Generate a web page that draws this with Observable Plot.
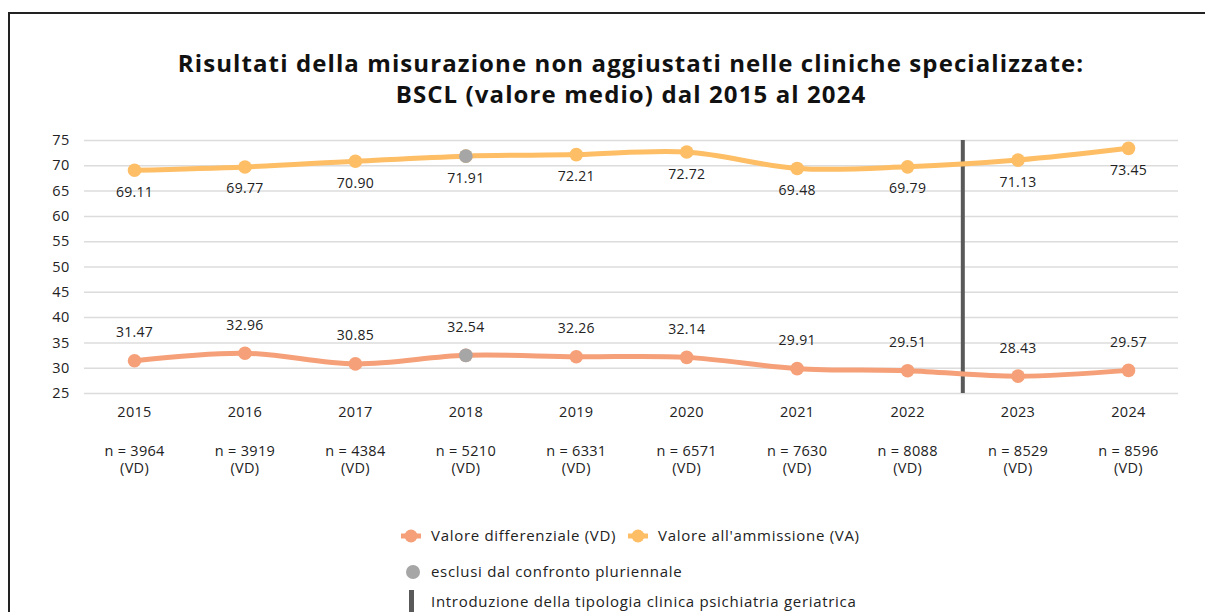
<!DOCTYPE html>
<html>
<head>
<meta charset="utf-8">
<script src="https://cdn.jsdelivr.net/npm/d3@7"></script>
<script src="https://cdn.jsdelivr.net/npm/@observablehq/plot@0.6"></script>
<style>
  html, body { margin: 0; padding: 0; background: #fff; overflow: hidden; }
  body { width: 1205px; height: 612px; position: relative; font-family: "Open Sans", sans-serif; color: #222; }
  #frame { position: absolute; left: 8px; top: 12px; width: 1400px; height: 800px; border-top: 2px solid #222; border-left: 2px solid #222; }
  #title { position: absolute; left: 0; width: 1262px; top: 47px; text-align: center; font-weight: 700; font-size: 24px; line-height: 31px; color: #111; letter-spacing: 1.1px; }
  #chart { position: absolute; left: 0; top: 110px; }
  .leg { position: absolute; font-size: 15px; color: #222; white-space: nowrap; line-height: 18px; letter-spacing: 0.7px; }
  .leg svg { position: absolute; }
</style>
</head>
<body>
<div id="frame"></div>
<div id="title">Risultati della misurazione non aggiustati nelle cliniche specializzate:<br>BSCL (valore medio) dal 2015 al 2024</div>
<div id="chart"></div>
<div id="legend"></div>
<script>
const years = [2015, 2016, 2017, 2018, 2019, 2020, 2021, 2022, 2023, 2024];
const valoreAmmissione = [69.11, 69.77, 70.90, 71.91, 72.21, 72.72, 69.48, 69.79, 71.13, 73.45];
const valoreDifferenziale = [31.47, 32.96, 30.85, 32.54, 32.26, 32.14, 29.91, 29.51, 28.43, 29.57];
const nCounts = [3964, 3919, 4384, 5210, 6331, 6571, 7630, 8088, 8529, 8596];
const excludedYears = [2018];
const introductionYear = 2022.5;
const yTicks = [25, 30, 35, 40, 45, 50, 55, 60, 65, 70, 75];

const colVA = "#FDBE66";
const colVD = "#F5A078";
const colEx = "#A6A6A6";

const va = years.map((y, i) => ({year: y, value: valoreAmmissione[i]}));
const vd = years.map((y, i) => ({year: y, value: valoreDifferenziale[i]}));
const ex = [...va, ...vd].filter(d => excludedYears.includes(d.year));
const nLabels = years.map((y, i) => ({year: y, label: `n = ${nCounts[i]}\n(VD)`}));

const chart = Plot.plot({
  width: 1205,
  height: 370,
  marginTop: 30,
  marginBottom: 87,
  marginLeft: 84,
  marginRight: 27,
  style: {fontFamily: "Open Sans, sans-serif", fontSize: "14px", color: "#222", background: "transparent", letterSpacing: "0.3px"},
  x: {type: "linear", domain: [2014.547, 2024.453], axis: null},
  y: {domain: [25, 75], axis: null},
  marks: [
    Plot.gridY(yTicks, {stroke: "#dcdcdc", strokeOpacity: 1, strokeWidth: 1.5}),
    Plot.axisY(yTicks, {tickSize: 0, tickPadding: 15, fontSize: 14.5, fill: "#222", tickFormat: d => String(d), label: null}),
    Plot.ruleX([introductionYear], {y1: 25, y2: 75, stroke: "#595959", strokeWidth: 4}),
    Plot.line(va, {x: "year", y: "value", stroke: colVA, strokeWidth: 5, curve: "catmull-rom"}),
    Plot.line(vd, {x: "year", y: "value", stroke: colVD, strokeWidth: 5, curve: "catmull-rom"}),
    Plot.dot(va, {x: "year", y: "value", fill: colVA, r: 6.8}),
    Plot.dot(vd, {x: "year", y: "value", fill: colVD, r: 6.8}),
    Plot.dot(ex, {x: "year", y: "value", fill: colEx, r: 6.8}),
    Plot.text(va, {x: "year", y: "value", text: d => d.value.toFixed(2), dy: 22, fill: "#222", fontSize: 14}),
    Plot.text(vd, {x: "year", y: "value", text: d => d.value.toFixed(2), dy: -28, fill: "#222", fontSize: 14}),
    Plot.text(years, {x: d => d, frameAnchor: "bottom", lineAnchor: "middle", dy: 19, text: d => String(d), fill: "#222", fontSize: 14.5}),
    Plot.text(nLabels, {x: "year", frameAnchor: "bottom", lineAnchor: "middle", dy: 65.5, text: "label", lineHeight: 1.2, fill: "#222", fontSize: 14.5})
  ]
});
document.getElementById("chart").appendChild(chart);

// Legend
const legendItems = [
  {label: "Valore differenziale (VD)", color: colVD, kind: "linedot", x: 401, y: 536},
  {label: "Valore all'ammissione (VA)", color: colVA, kind: "linedot", x: 628, y: 536},
  {label: "esclusi dal confronto pluriennale", color: colEx, kind: "dot", x: 401, y: 572},
  {label: "Introduzione della tipologia clinica psichiatria geriatrica", color: "#595959", kind: "rule", x: 401, y: 602}
];
const legend = document.getElementById("legend");
legendItems.forEach(it => {
  const div = document.createElement("div");
  div.className = "leg";
  div.style.left = (it.x + 30) + "px";
  div.style.top = (it.y - 10) + "px";
  div.textContent = it.label;
  legend.appendChild(div);
  const s = d3.create("svg").attr("width", 22).attr("height", 24)
    .style("left", (it.x - 1) + "px").style("top", (it.y - 12) + "px")
    .style("position", "absolute");
  if (it.kind === "linedot") {
    s.append("line").attr("x1", 1).attr("x2", 21).attr("y1", 12).attr("y2", 12).attr("stroke", it.color).attr("stroke-width", 5);
    s.append("circle").attr("cx", 11).attr("cy", 12).attr("r", 6.5).attr("fill", it.color);
  } else if (it.kind === "dot") {
    s.append("circle").attr("cx", 13).attr("cy", 12).attr("r", 7).attr("fill", it.color);
  } else {
    s.append("rect").attr("x", 9).attr("y", -6).attr("width", 5).attr("height", 30).attr("fill", it.color);
  }
  legend.appendChild(s.node());
});
</script>
</body>
</html>
